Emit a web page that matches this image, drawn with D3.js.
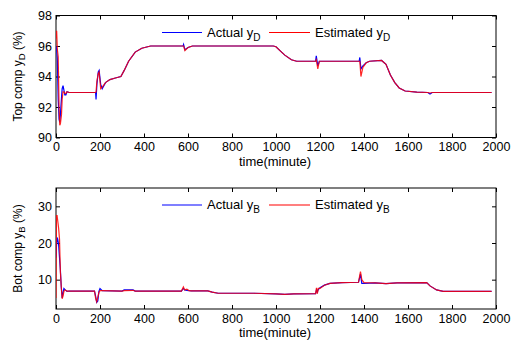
<!DOCTYPE html>
<html>
<head>
<meta charset="utf-8">
<script src="https://cdn.jsdelivr.net/npm/d3@7"></script>
<style>
  body { margin: 0; background: #fff; }
  svg text { font-family: "Liberation Sans", Arial, sans-serif; fill: #000; }
  .axis path, .axis line { stroke: #000; }
</style>
</head>
<body>
<div id="chart"></div>
<script>
// top panel: distillate composition
const topTime = [0, 3, 6, 10, 14, 17, 20, 25, 28, 32, 36, 40, 45, 50, 60, 180, 182, 186, 192, 196, 203, 210, 225, 245, 270, 295, 310, 330, 360, 390, 430, 578, 580, 586, 600, 620, 988, 1000, 1018, 1040, 1070, 1094, 1180, 1183, 1190, 1197, 1378, 1381, 1386, 1395, 1410, 1425, 1480, 1500, 1520, 1540, 1560, 1587, 1640, 1690, 1700, 1710, 1980];
const topActual = [96.0, 95.8, 95.2, 92.5, 91.2, 91.0, 91.5, 92.6, 93.2, 93.4, 93.1, 92.8, 92.8, 93.0, 92.95, 92.95, 92.5, 93.5, 94.3, 94.4, 93.5, 93.2, 93.6, 93.8, 93.9, 94.0, 94.4, 95.0, 95.6, 95.85, 96.0, 96.0, 96.1, 95.75, 95.9, 96.0, 96.0, 95.95, 95.7, 95.4, 95.1, 95.0, 95.0, 95.35, 94.7, 95.0, 95.0, 95.25, 94.5, 94.7, 94.9, 95.0, 95.05, 94.8, 94.1, 93.6, 93.25, 93.05, 92.98, 92.95, 92.85, 92.95, 92.95];
const topEstimated = [96.5, 97.0, 95.8, 95.3, 92.0, 90.8, 90.9, 91.5, 92.5, 93.0, 93.0, 92.9, 92.9, 93.0, 92.95, 92.95, 93.0, 93.7, 94.2, 94.3, 93.2, 93.3, 93.6, 93.8, 93.9, 94.0, 94.4, 95.0, 95.6, 95.85, 96.0, 96.0, 96.0, 95.7, 95.9, 96.0, 96.0, 95.95, 95.7, 95.4, 95.1, 95.0, 95.0, 95.1, 94.5, 95.0, 95.0, 95.0, 94.0, 94.6, 94.9, 95.0, 95.05, 94.8, 94.1, 93.6, 93.25, 93.05, 92.98, 92.95, 92.92, 92.95, 92.95];

// bottom panel: bottoms composition
const botTime = [0, 2, 5, 8, 12, 16, 20, 24, 28, 32, 36, 42, 50, 60, 175, 180, 185, 190, 195, 200, 210, 300, 310, 350, 360, 570, 579, 585, 595, 605, 615, 690, 710, 737, 900, 1000, 1040, 1080, 1180, 1184, 1188, 1192, 1200, 1220, 1245, 1300, 1375, 1380, 1384, 1390, 1400, 1450, 1500, 1550, 1685, 1700, 1730, 1760, 1980];
const botActual = [16.0, 19, 21.5, 21, 19.5, 16, 12.5, 8, 5, 6.5, 7.6, 7.2, 6.8, 6.9, 6.9, 5.5, 3.8, 4.2, 6.8, 7.6, 7.0, 6.9, 7.2, 7.2, 6.9, 6.9, 7.6, 7.2, 7.1, 7.0, 6.95, 6.95, 6.6, 6.3, 6.3, 6.1, 6.0, 6.1, 6.2, 7.2, 6.6, 7.3, 7.8, 8.5, 9.0, 9.2, 9.3, 10.5, 11.5, 9.0, 9.0, 9.1, 8.9, 9.1, 9.2, 8.3, 7.2, 6.8, 6.8];
const botEstimated = [5, 27.5, 27.5, 26, 24, 21, 12, 8, 4.8, 5.5, 6.8, 7.2, 6.9, 6.9, 6.9, 5.0, 4.0, 5.2, 6.5, 7.0, 7.0, 6.9, 7.0, 7.1, 6.9, 6.9, 8.0, 7.2, 7.4, 7.0, 6.95, 6.95, 6.6, 6.3, 6.3, 6.1, 6.0, 6.1, 6.2, 7.8, 6.2, 7.6, 7.6, 8.5, 9.0, 9.2, 9.3, 11.0, 12.2, 10.0, 9.2, 9.1, 8.9, 9.1, 9.2, 8.3, 7.2, 6.8, 6.8];

const xTicks = [0, 200, 400, 600, 800, 1000, 1200, 1400, 1600, 1800, 2000];
const topTicks = [90, 92, 94, 96, 98];
const botTicks = [10, 20, 30];

const W = 512, H = 340;
const svg = d3.select("#chart").append("svg")
  .attr("width", W)
  .attr("height", H);

function drawPanel(opts) {
  const left = 56, right = 496;
  const x = d3.scaleLinear().domain([0, 2000]).range([left, right]);
  const y = d3.scaleLinear().domain(opts.yDomain).range([opts.bottom, opts.top]);
  const tick = 4;
  const fmt = d3.format("d");

  const g = svg.append("g");

  // box
  g.append("rect")
    .attr("x", left).attr("y", opts.top)
    .attr("width", right - left).attr("height", opts.bottom - opts.top)
    .attr("fill", "none").attr("stroke", "#000").attr("stroke-width", 1);

  // inward ticks on all four sides
  g.append("g").attr("class", "axis")
    .attr("transform", "translate(0," + opts.bottom + ")")
    .call(d3.axisBottom(x).tickValues(xTicks).tickSizeInner(-tick).tickSizeOuter(0).tickPadding(5).tickFormat(fmt))
    .call(s => s.select(".domain").remove());
  g.append("g").attr("class", "axis")
    .attr("transform", "translate(0," + opts.top + ")")
    .call(d3.axisTop(x).tickValues(xTicks).tickSizeInner(-tick).tickSizeOuter(0).tickFormat(""))
    .call(s => s.select(".domain").remove());
  g.append("g").attr("class", "axis")
    .attr("transform", "translate(" + left + ",0)")
    .call(d3.axisLeft(y).tickValues(opts.ticks).tickSizeInner(-tick).tickSizeOuter(0).tickPadding(4).tickFormat(fmt))
    .call(s => s.select(".domain").remove());
  g.append("g").attr("class", "axis")
    .attr("transform", "translate(" + right + ",0)")
    .call(d3.axisRight(y).tickValues(opts.ticks).tickSizeInner(-tick).tickSizeOuter(0).tickFormat(""))
    .call(s => s.select(".domain").remove());

  g.selectAll(".axis text")
    .attr("font-size", 12.5)
    .attr("font-family", "Liberation Sans, Arial, sans-serif");

  // series
  const line = d3.line()
    .x(d => x(d[0]))
    .y(d => y(d[1]));
  const clip = "clip" + opts.sub;
  svg.append("clipPath").attr("id", clip)
    .append("rect")
    .attr("x", left).attr("y", opts.top)
    .attr("width", right - left).attr("height", opts.bottom - opts.top);

  g.append("path")
    .datum(opts.time.map((t, i) => [t, opts.actual[i]]))
    .attr("clip-path", "url(#" + clip + ")")
    .attr("fill", "none").attr("stroke", "#0000ff").attr("stroke-width", 1.2)
    .attr("d", line);
  g.append("path")
    .datum(opts.time.map((t, i) => [t, opts.estimated[i]]))
    .attr("clip-path", "url(#" + clip + ")")
    .attr("fill", "none").attr("stroke", "#ff0000").attr("stroke-width", 1.2)
    .attr("stroke-opacity", 0.85)
    .attr("d", line);

  // legend
  const ly = opts.top + 17;
  const legend = [
    {label: "Actual y", color: "#0000ff", x0: 162, x1: 202},
    {label: "Estimated y", color: "#ff0000", x0: 269, x1: 310}
  ];
  legend.forEach(l => {
    g.append("line")
      .attr("x1", l.x0).attr("x2", l.x1)
      .attr("y1", ly).attr("y2", ly)
      .attr("stroke", l.color).attr("stroke-width", 1.2);
    const t = g.append("text")
      .attr("x", l.x1 + 5).attr("y", ly + 4)
      .attr("font-size", 13);
    t.append("tspan").text(l.label);
    t.append("tspan").attr("dy", 4).attr("font-size", 10).text(opts.sub);
  });

  // x label
  g.append("text")
    .attr("x", 275)
    .attr("y", opts.bottom + 28)
    .attr("text-anchor", "middle")
    .attr("font-size", 13)
    .text("time(minute)");

  // y label
  const yl = g.append("text")
    .attr("transform", "translate(21.5," + ((opts.top + opts.bottom) / 2) + ") rotate(-90)")
    .attr("text-anchor", "middle")
    .attr("font-size", 12);
  yl.append("tspan").text(opts.yLabel + " y");
  yl.append("tspan").attr("dy", 3.5).attr("font-size", 9.5).text(opts.sub);
  yl.append("tspan").attr("dy", -3.5).text(" (%)");
}

drawPanel({
  top: 15.5, bottom: 137.5, yDomain: [90, 98], ticks: topTicks,
  time: topTime, actual: topActual, estimated: topEstimated,
  sub: "D", yLabel: "Top comp"
});

drawPanel({
  top: 188, bottom: 309, yDomain: [2, 35], ticks: botTicks,
  time: botTime, actual: botActual, estimated: botEstimated,
  sub: "B", yLabel: "Bot comp"
});
</script>
</body>
</html>
